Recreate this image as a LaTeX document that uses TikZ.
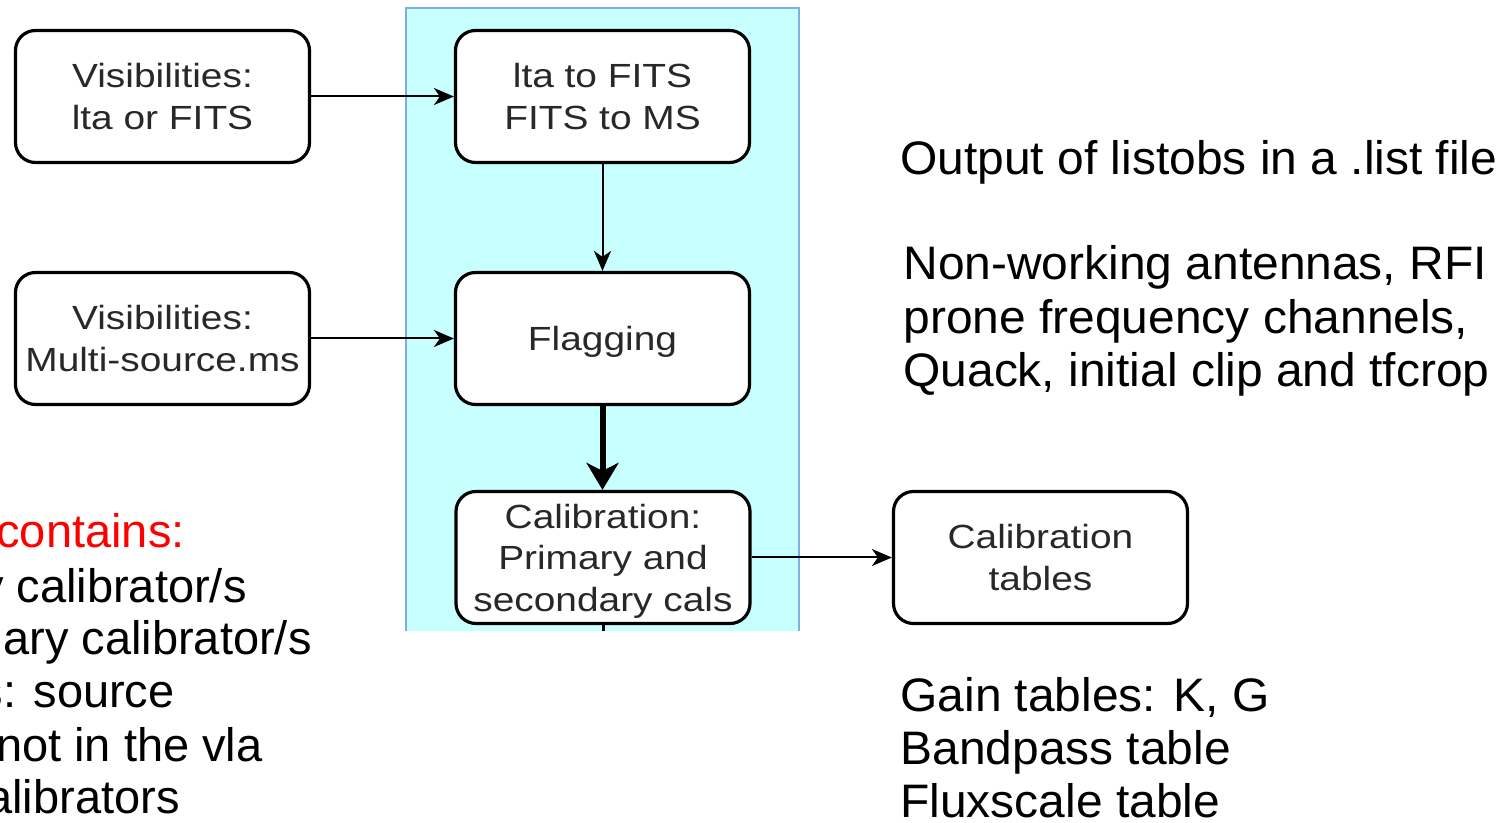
\documentclass[tikz,border=0pt]{standalone}
\usepackage{fontspec}
\setmainfont{Liberation Sans}
\newfontfamily\boxfont[FakeStretch=1.16]{Liberation Sans}
\newfontfamily\notefont[FakeStretch=1.02]{Liberation Sans}
\usetikzlibrary{arrows.meta}

\definecolor{panelfill}{RGB}{200,255,255}
\definecolor{panelline}{RGB}{125,175,230}
\definecolor{boxtext}{RGB}{40,40,40}

\begin{document}
\begin{tikzpicture}[x=0.5pt,y=-0.5pt,
  flowbox/.style={draw=black, line width=1.6pt, rounded corners=10pt, fill=white,
    minimum width=147pt, minimum height=66pt, inner sep=0pt, align=center,
    text=boxtext, font=\boxfont\fontsize{16.75}{20.8}\selectfont},
  link/.style={line width=1pt, -{Stealth[length=10pt,width=8.5pt,inset=3pt]}},
  boldlink/.style={line width=3pt, -{Stealth[length=13.5pt,width=16pt,inset=4pt]}},
  note/.style={anchor=base west, inner sep=0pt, font=\notefont\fontsize{23.5}{26.75}\selectfont},
  sidenote/.style={anchor=base east, inner sep=0pt, font=\fontsize{23.5}{26.75}\selectfont}
]
\useasboundingbox (0,0) rectangle (1512,823);
\clip (0,0) rectangle (1512,823);

% processing panel (open at the bottom)
\fill[panelfill] (406,8) rectangle (799,631);
\draw[panelline, line width=1pt] (406,631) -- (406,8) -- (799,8) -- (799,631);

% flow boxes
\node[flowbox] (vis1)   at (162.5,96.5)  {Visibilities:\\lta or FITS};
\node[flowbox] (vis2)   at (162.5,338.5) {Visibilities:\\Multi-source.ms};
\node[flowbox] (conv)   at (602.5,96.5)  {lta to FITS\\FITS to MS};
\node[flowbox, text depth=0pt] (flag) at (602.5,338.5) {Flagging};
\node[flowbox, text depth=0pt] (calib) at (603,557.5) {Calibration:\\Primary and\\secondary cals};
\node[flowbox] (caltab) at (1040.5,557.5) {Calibration\\tables};
\coordinate (cut) at (604,631);

% connectors
\draw[link] (vis1.east) -- (vis1.east -| conv.west);
\draw[link] (vis2.east) -- (vis2.east -| flag.west);
\draw[link] (conv.south) -- (conv.south |- flag.north);
\draw[boldlink] (flag.south) -- (flag.south |- calib.north);
\draw[link] (calib.east) -- (calib.east -| caltab.west);
\draw[line width=1.5pt] (calib.south) -- (calib.south |- cut);

% notes on the right
\node[note] (listobs) at (900,175) {Output of listobs in a .list file};
\node[note] (flagA) at (903,280) {Non-working antennas, RFI};
\node[note] (flagB) at (903,334) {prone frequency channels,};
\node[note] (flagC) at (903,387) {Quack, initial clip and tfcrop};
\node[note] (tabA) at (900,712) {Gain tables: K, G};
\node[note] (tabB) at (900,765) {Bandpass table};
\node[note] (tabC) at (900,818) {Fluxscale table};

% notes on the left, running past the edge
\node[sidenote, text=red] (dataA) at (185,548) {contains:};
\node[sidenote] (dataB) at (247,603) {y calibrator/s};
\node[sidenote] (dataC) at (312,655) {ary calibrator/s};
\node[sidenote] (dataD) at (175,708) {s: source};
\node[sidenote] (dataE) at (263,762) {not in the vla};
\node[sidenote] (dataF) at (180,813) {alibrators};
\end{tikzpicture}
\end{document}
